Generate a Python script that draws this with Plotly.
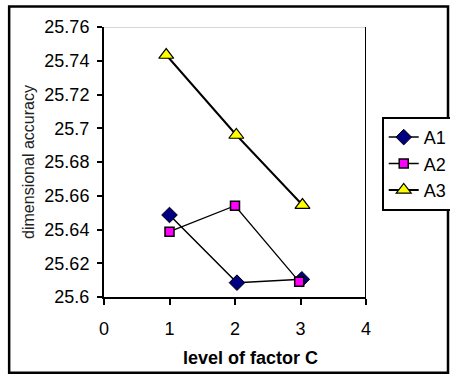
import plotly.graph_objects as go

# Data
series_names = ["A1", "A2", "A3"]
a1_x = [1.0, 2.03, 3.02]
a1_y = [25.6486, 25.6085, 25.6105]
a2_x = [1.0, 2.0, 2.98]
a2_y = [25.6387, 25.6541, 25.6091]
a3_x = [0.95, 2.02, 3.03]
a3_y = [25.7434, 25.6960, 25.6545]

x_ticks = [0, 1, 2, 3, 4]
y_ticks = [25.6, 25.62, 25.64, 25.66, 25.68, 25.7, 25.72, 25.74, 25.76]
y_ticklabels = ["25.6", "25.62", "25.64", "25.66", "25.68", "25.7", "25.72", "25.74", "25.76"]

FONT = "Liberation Sans, Arial, sans-serif"

fig = go.Figure()
fig.add_trace(go.Scatter(
    x=a1_x, y=a1_y, name=series_names[0], mode="lines+markers",
    line=dict(color="black", width=1.5),
    marker=dict(symbol="diamond", size=12, color="#000080", line=dict(color="black", width=1)),
))
fig.add_trace(go.Scatter(
    x=a2_x, y=a2_y, name=series_names[1], mode="lines+markers",
    line=dict(color="black", width=1.3),
    marker=dict(symbol="square", size=9, color="#FF00FF", line=dict(color="black", width=1.5)),
))
fig.add_trace(go.Scatter(
    x=a3_x, y=a3_y, name=series_names[2], mode="lines+markers",
    line=dict(color="black", width=2),
    marker=dict(symbol="triangle-up", size=13, color="#FFFF00", line=dict(color="black", width=1.2)),
))

fig.update_layout(
    width=450, height=377,
    margin=dict(l=104, r=84, t=27, b=80, autoexpand=False),
    paper_bgcolor="white", plot_bgcolor="white",
    font=dict(family=FONT, size=17, color="black"),
    showlegend=True,
    legend=dict(
        x=1.06, y=0.667, xanchor="left", yanchor="top",
        bordercolor="black", borderwidth=2, bgcolor="white",
        font=dict(family=FONT, size=18, color="black"),
        itemwidth=30, tracegroupgap=0,
    ),
    xaxis=dict(
        range=[0, 4], tickvals=x_ticks, ticktext=[str(v) for v in x_ticks],
        showgrid=False, zeroline=False,
        showline=True, linecolor="black", linewidth=2,
        ticks="outside", ticklen=6, tickwidth=2, tickcolor="black",
        ticklabelstandoff=8,
        tickfont=dict(family=FONT, size=18, color="black"),
    ),
    yaxis=dict(
        range=[25.6, 25.76], tickvals=y_ticks, ticktext=y_ticklabels,
        showgrid=False, zeroline=False,
        showline=True, linecolor="black", linewidth=2,
        ticks="outside", ticklen=5, tickwidth=2, tickcolor="black",
        ticklabelstandoff=4,
        tickfont=dict(family=FONT, size=18, color="black"),
        title=dict(text="dimensional accuracy", font=dict(family=FONT, size=16, color="#222"), standoff=6),
    ),
    annotations=[dict(
        text="<b>level of factor C</b>", xref="paper", yref="paper",
        x=0.561, y=-0.226, xanchor="center", yanchor="middle", showarrow=False,
        font=dict(family=FONT, size=18, color="black"),
    )],
    shapes=[
        # plot area top (gray) and right (black) borders
        dict(type="line", xref="x", yref="y", x0=0, x1=4, y0=25.76, y1=25.76,
             line=dict(color="#b0b0b0", width=1), layer="below"),
        dict(type="line", xref="x", yref="y", x0=4, x1=4, y0=25.6, y1=25.76,
             line=dict(color="black", width=2), layer="below"),
        # outer chart border
        dict(type="rect", xref="paper", yref="paper", x0=-0.362, x1=1.313, y0=-0.281, y1=1.076,
             line=dict(color="black", width=2.5), fillcolor="rgba(0,0,0,0)"),
    ],
)

fig.write_html("out.html")
